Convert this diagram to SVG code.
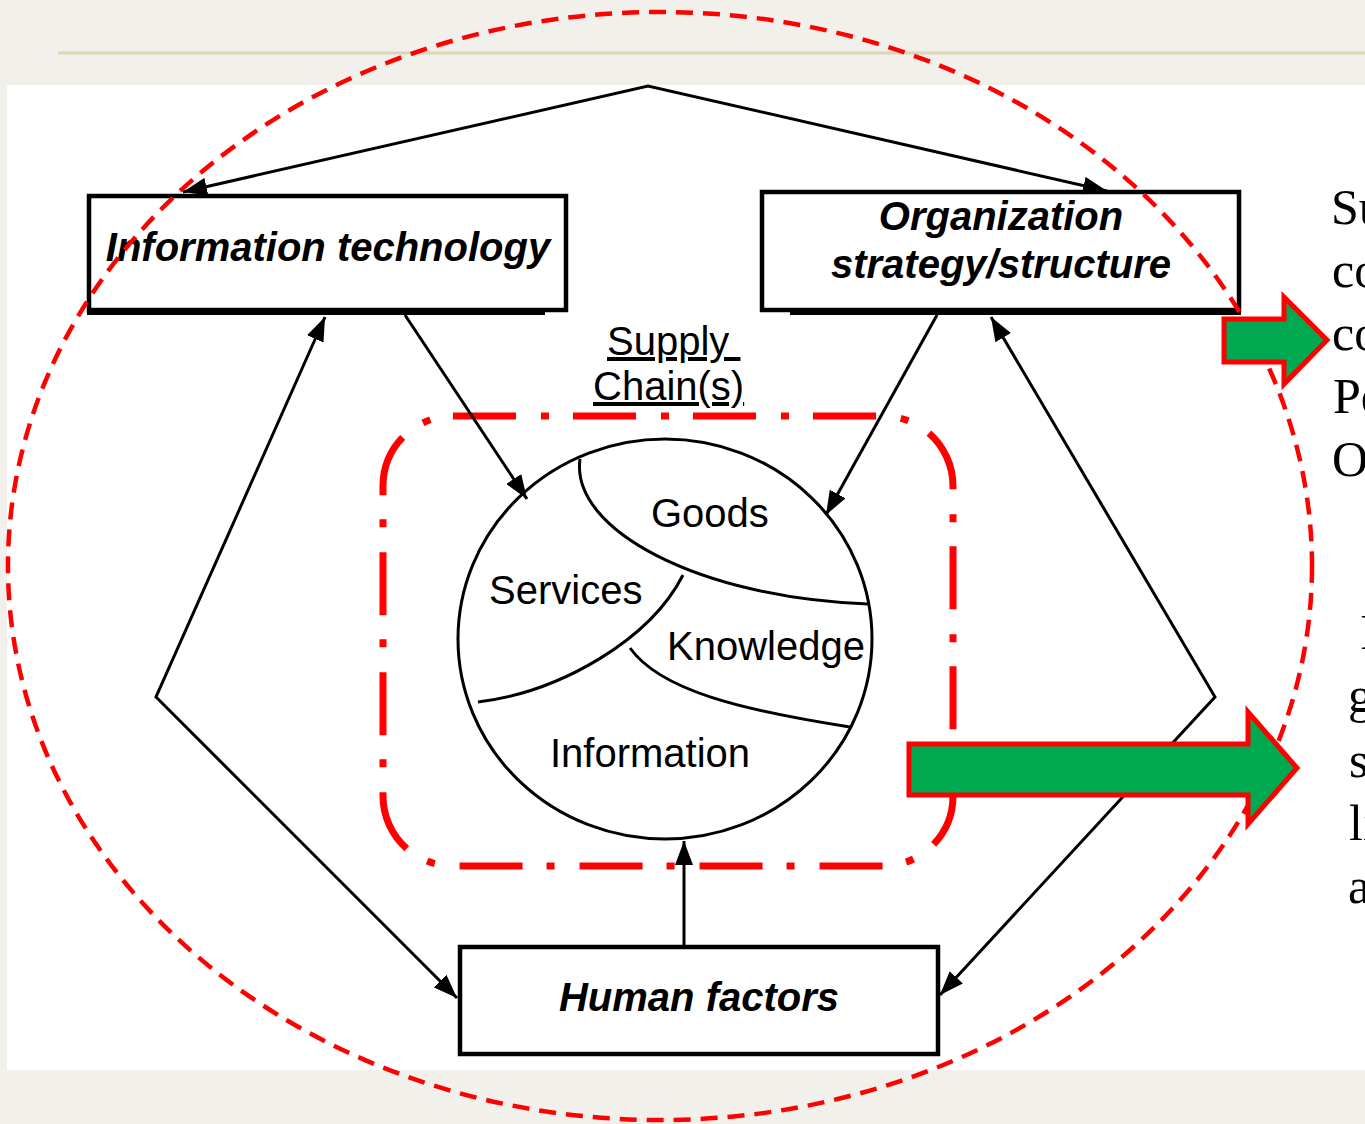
<svg xmlns="http://www.w3.org/2000/svg" width="1365" height="1124" viewBox="0 0 1365 1124">
  <defs>
    <marker id="ah" viewBox="0 0 24 18" refX="24" refY="9" markerWidth="24" markerHeight="18" markerUnits="userSpaceOnUse" orient="auto-start-reverse">
      <path d="M0,0 L24,9 L0,18 z" fill="#000"/>
    </marker>
    <style>
      .box { fill: #fff; stroke: #000; stroke-width: 4.5; }
      .boxtxt { font-family: "Liberation Sans", Arial, sans-serif; font-size: 40px; font-weight: bold; font-style: italic; fill: #000; text-anchor: middle; }
      .lbl { font-family: "Liberation Sans", Arial, sans-serif; font-size: 40px; fill: #000; }
      .conn { fill: none; stroke: #000; stroke-width: 3; }
      .curve { fill: none; stroke: #000; stroke-width: 3; }
      .side { font-family: "Liberation Serif", "Times New Roman", serif; font-size: 50px; fill: #000; }
      .garrow { fill: #00a94f; stroke: #ff0000; stroke-width: 5; }
    </style>
  </defs>

  <!-- background -->
  <rect x="0" y="0" width="1365" height="1124" fill="#f1f0ea"/>
  <line x1="58" y1="53" x2="1365" y2="53" stroke="#dcd6b8" stroke-width="3"/>
  <rect x="7" y="85" width="1358" height="985" fill="#ffffff"/>

  <!-- supply chain dash-dot container -->
  <g id="supply-chain-region">
    <rect x="383" y="416" width="570" height="450" rx="70" ry="70" fill="none" stroke="#ff0000" stroke-width="7" stroke-dasharray="63 25 8 24"/>
    <text class="lbl" x="607" y="355" text-decoration="underline" xml:space="preserve">Supply </text>
    <text class="lbl" x="593" y="400" text-decoration="underline">Chain(s)</text>
  </g>

  <!-- central circle -->
  <g id="supply-chain-circle">
    <ellipse cx="665" cy="639" rx="207" ry="200" fill="none" stroke="#000" stroke-width="3"/>
    <path class="curve" d="M580,459 C570,530 700,598 868,604"/>
    <path class="curve" d="M478,702 C560,692 650,640 683,575"/>
    <path class="curve" d="M630,648 C660,690 740,710 850,727"/>
    <text class="lbl" x="651" y="527">Goods</text>
    <text class="lbl" x="489" y="604">Services</text>
    <text class="lbl" x="667" y="660">Knowledge</text>
    <text class="lbl" x="550" y="767">Information</text>
  </g>

  <!-- nodes -->
  <g id="information-technology">
    <rect class="box" x="89" y="196" width="477" height="114"/>
    <line x1="87" y1="313" x2="545" y2="313" stroke="#000" stroke-width="4"/>
    <text class="boxtxt" x="328" y="261">Information technology</text>
  </g>

  <g id="organization-strategy">
    <rect class="box" x="762" y="192" width="477" height="118"/>
    <line x1="790" y1="313" x2="1241" y2="313" stroke="#000" stroke-width="4"/>
    <text class="boxtxt" x="1001" y="230">Organization</text>
    <text class="boxtxt" x="1001" y="278">strategy/structure</text>
  </g>

  <g id="human-factors">
    <rect class="box" x="460" y="947" width="478" height="107"/>
    <text class="boxtxt" x="699" y="1011">Human factors</text>
  </g>

  <!-- connectors -->
  <g id="connectors">
    <path class="conn" d="M183,192 L648,86 L1107,191" marker-start="url(#ah)" marker-end="url(#ah)"/>
    <path class="conn" d="M405,315 L527,499" marker-end="url(#ah)"/>
    <path class="conn" d="M937,315 L826,515" marker-end="url(#ah)"/>
    <path class="conn" d="M684,945 L684,841" marker-end="url(#ah)"/>
    <path class="conn" d="M325,317 L156,697 L457,998" marker-start="url(#ah)" marker-end="url(#ah)"/>
    <path class="conn" d="M991,317 L1215,697 L940,995" marker-start="url(#ah)" marker-end="url(#ah)"/>
  </g>

  <!-- outer dashed ellipse -->
  <g id="outer-boundary">
    <ellipse cx="660" cy="566" rx="652" ry="554" fill="none" stroke="#ff0000" stroke-width="4.5" stroke-dasharray="17 10"/>
  </g>

  <!-- green arrows -->
  <g id="arrow-small">
    <polygon class="garrow" points="1224,319 1284,319 1284,297 1327,340 1284,384 1284,362 1224,362"/>
  </g>
  <g id="arrow-large">
    <polygon class="garrow" points="909,744 1248,744 1248,712 1297,768 1248,824 1248,795 909,795"/>
  </g>

  <!-- clipped side text (cut by the picture edge, as in the reference) -->
  <g id="side-text-1">
    <text class="side" x="1331" y="224">Su</text>
    <text class="side" x="1332" y="287">co</text>
    <text class="side" x="1332" y="350">co</text>
    <text class="side" x="1333" y="413">Pe</text>
    <text class="side" x="1332" y="476">O</text>
  </g>
  <g id="side-text-2">
    <text class="side" x="1360" y="649">I</text>
    <text class="side" x="1348" y="712">g</text>
    <text class="side" x="1349" y="777">s</text>
    <text class="side" x="1349" y="840">li</text>
    <text class="side" x="1348" y="903">a</text>
  </g>
</svg>
